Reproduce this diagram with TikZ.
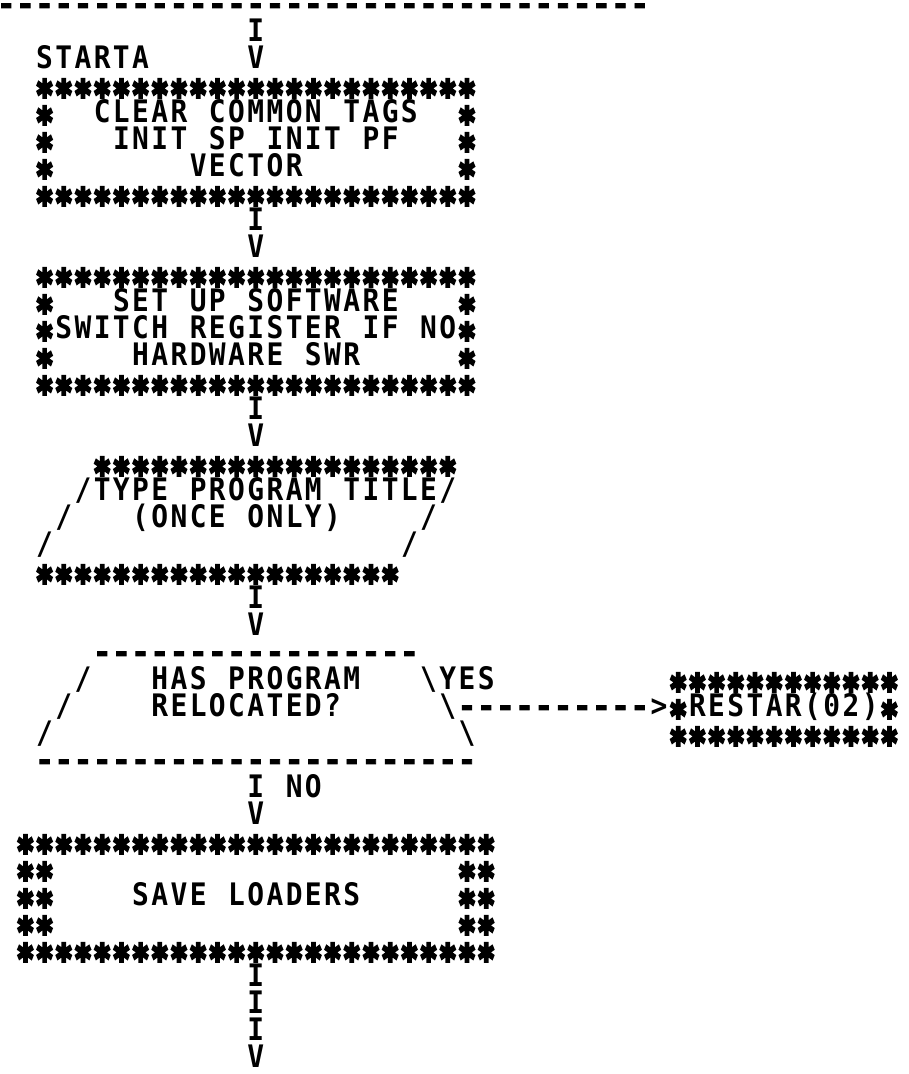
\documentclass[tikz,border=0pt]{standalone}
\usepackage{fontspec}
\newfontfamily\plotfont{DejaVu Sans Mono}[FakeStretch=0.9]
\newfontfamily\dashfont{DejaVu Sans Mono}[FakeBold=2.5]
\newfontfamily\starfamily{DejaVu Sans}[FakeBold=8]
\newlength\cw
\setlength\cw{19.2pt}
\newcommand\st{\makebox[\cw][c]{\raisebox{-12.6pt}{\scalebox{0.8}[1.08]{\starfamily\bfseries\fontsize{36}{36}\selectfont *}}}}
\ExplSyntaxOn
\NewDocumentCommand\cells{m}{
  \str_map_inline:nn {#1}
    {
      \str_case:nnF {##1}
        {
          {*} {\st}
          {!} {\makebox[\cw][c]{\textbackslash}}
          {-} {\makebox[\cw][c]{\dashfont\bfseries -}}
        }
        {\makebox[\cw][c]{##1}}
    }
}
\NewDocumentCommand\rep{mm}{\prg_replicate:nn {#1} {#2}}
\ExplSyntaxOff
\tikzset{txt/.style={anchor=base west, inner sep=0pt, outer sep=0pt,
  font=\plotfont\bfseries\fontsize{31}{32}\selectfont}}
\newcommand\putrun[4]{\node[txt] (#1) at ({36+19.2*(#3)-1},{-(14.6+27*(#2))}) {\cells{#4}};}
\newcommand\putrep[5]{\node[txt] (#1) at ({36+19.2*(#3)-1},{-(14.6+27*(#2))}) {\rep{#4}{\cells{#5}}};}
\begin{document}
\begin{tikzpicture}[x=1pt,y=1pt]
\useasboundingbox (0,0) rectangle (909,-1074);
% page rule
\putrep{r0}{0}{-2}{34}{-}
% start
\putrun{r1}{1}{11}{I}
\putrun{r2a}{2}{0}{STARTA}
\putrun{r2b}{2}{11}{V}
% box 1
\putrep{r3}{3}{0}{23}{*}
\putrun{r4a}{4}{0}{*}\putrun{r4b}{4}{3}{CLEAR COMMON TAGS}\putrun{r4c}{4}{22}{*}
\putrun{r5a}{5}{0}{*}\putrun{r5b}{5}{4}{INIT SP INIT PF}\putrun{r5c}{5}{22}{*}
\putrun{r6a}{6}{0}{*}\putrun{r6b}{6}{8}{VECTOR}\putrun{r6c}{6}{22}{*}
\putrep{r7}{7}{0}{23}{*}
\putrun{r8}{8}{11}{I}
\putrun{r9}{9}{11}{V}
% box 2
\putrep{r10}{10}{0}{23}{*}
\putrun{r11a}{11}{0}{*}\putrun{r11b}{11}{4}{SET UP SOFTWARE}\putrun{r11c}{11}{22}{*}
\putrun{r12}{12}{0}{*SWITCH REGISTER IF NO*}
\putrun{r13a}{13}{0}{*}\putrun{r13b}{13}{5}{HARDWARE SWR}\putrun{r13c}{13}{22}{*}
\putrep{r14}{14}{0}{23}{*}
\putrun{r15}{15}{11}{I}
\putrun{r16}{16}{11}{V}
% parallelogram
\putrep{r17}{17}{3}{19}{*}
\putrun{r18}{18}{2}{/TYPE PROGRAM TITLE/}
\putrun{r19a}{19}{1}{/}\putrun{r19b}{19}{5}{(ONCE ONLY)}\putrun{r19c}{19}{20}{/}
\putrun{r20a}{20}{0}{/}\putrun{r20b}{20}{19}{/}
\putrep{r21}{21}{0}{19}{*}
\putrun{r22}{22}{11}{I}
\putrun{r23}{23}{11}{V}
% decision
\putrep{r24}{24}{3}{17}{-}
\putrun{r25a}{25}{2}{/}\putrun{r25b}{25}{6}{HAS PROGRAM}\putrun{r25c}{25}{20}{!YES}
\putrep{r25d}{25}{33}{12}{*}
\putrun{r26a}{26}{1}{/}\putrun{r26b}{26}{6}{RELOCATED?}
\putrun{r26c}{26}{21}{!---------->*RESTAR(02)*}
\putrun{r27a}{27}{0}{/}\putrun{r27b}{27}{22}{!}\putrep{r27c}{27}{33}{12}{*}
\putrep{r28}{28}{0}{23}{-}
\putrun{r29}{29}{11}{I NO}
\putrun{r30}{30}{11}{V}
% box 5
\putrep{r31}{31}{-1}{25}{*}
\putrun{r32a}{32}{-1}{**}\putrun{r32b}{32}{22}{**}
\putrun{r33a}{33}{-1}{**}\putrun{r33b}{33}{5}{SAVE LOADERS}\putrun{r33c}{33}{22}{**}
\putrun{r34a}{34}{-1}{**}\putrun{r34b}{34}{22}{**}
\putrep{r35}{35}{-1}{25}{*}
\putrun{r36}{36}{11}{I}
\putrun{r37}{37}{11}{I}
\putrun{r38}{38}{11}{I}
\putrun{r39}{39}{11}{V}
\end{tikzpicture}
\end{document}
